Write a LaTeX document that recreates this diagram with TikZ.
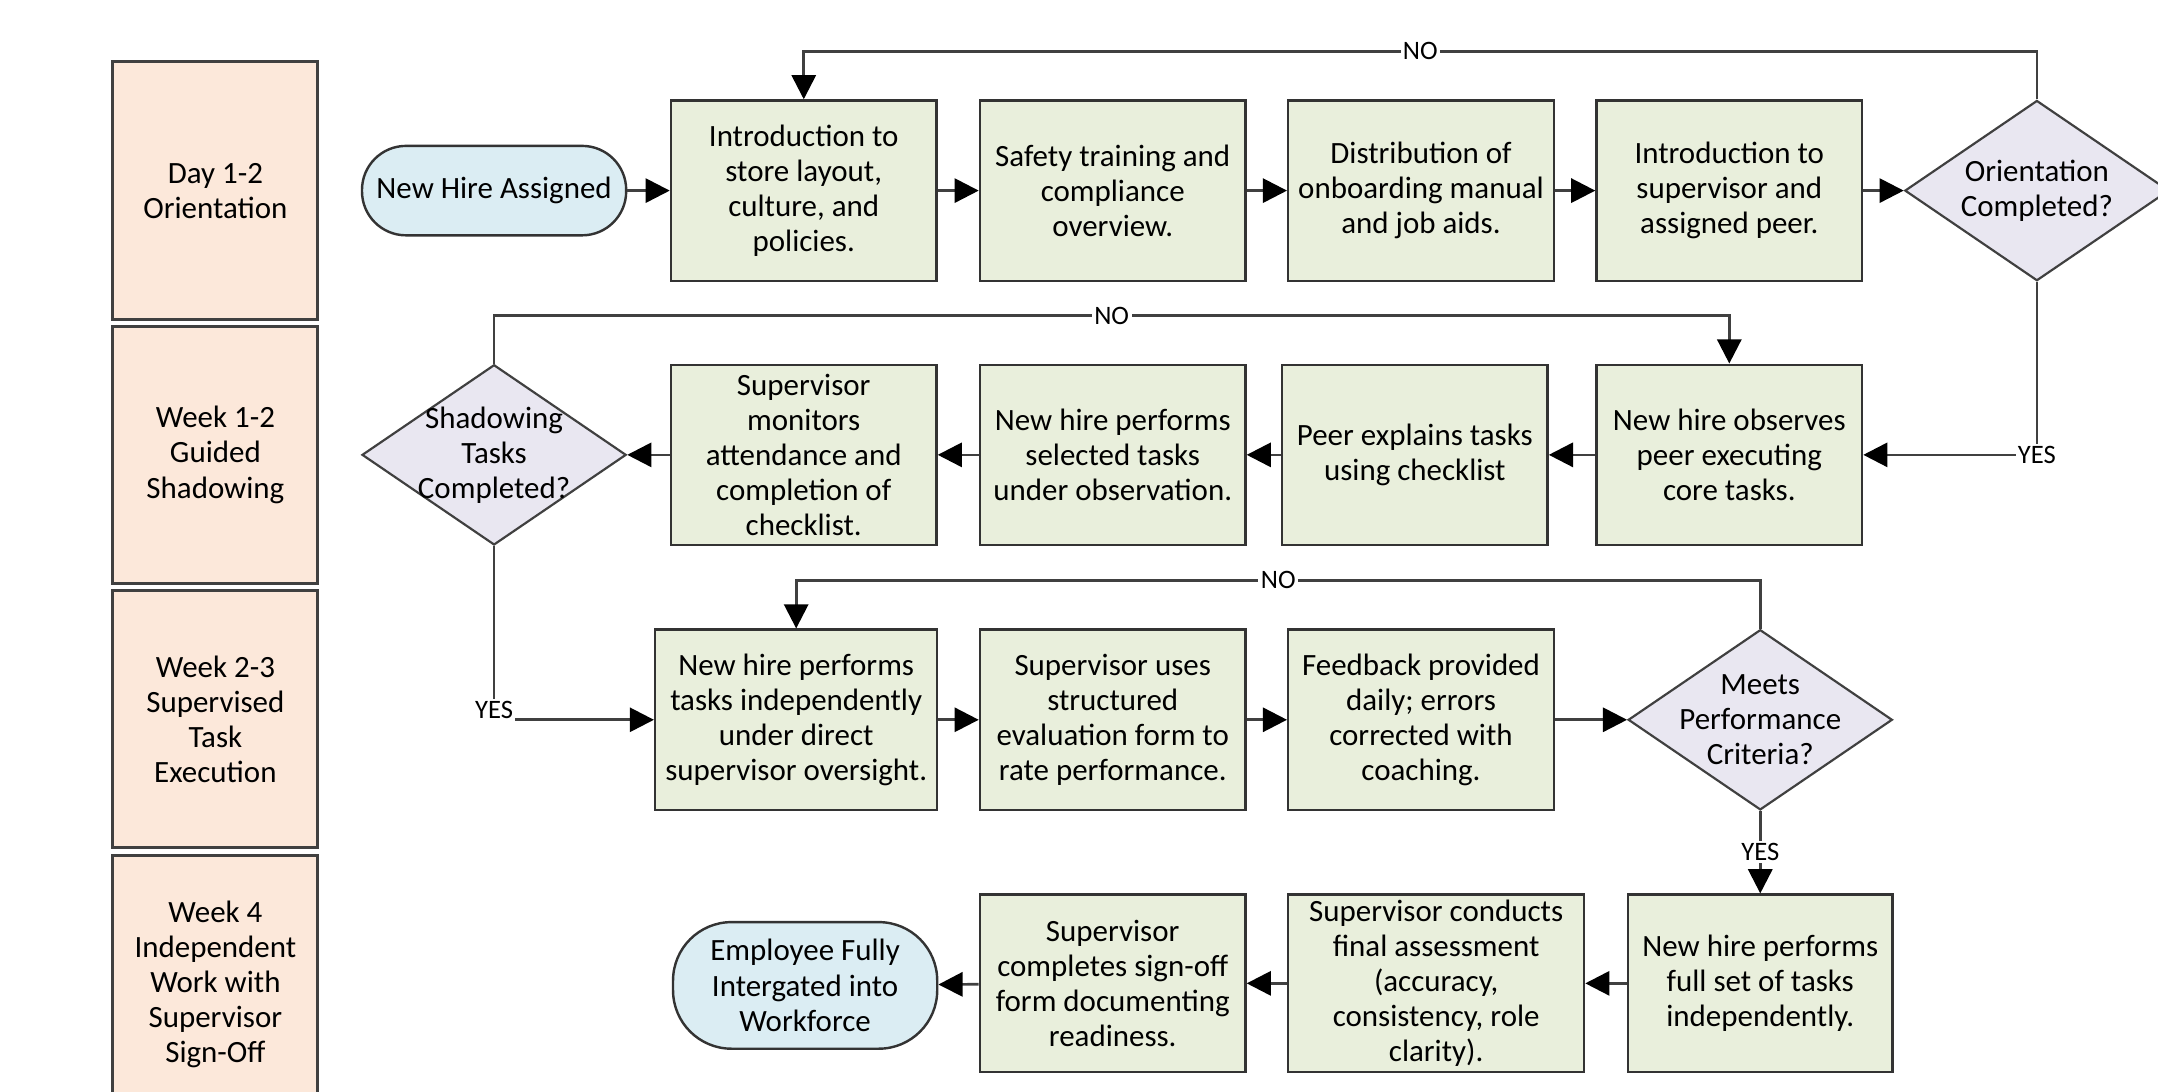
\documentclass[tikz,border=0pt]{standalone}
\usepackage{fontspec}
\setmainfont{Carlito}
\usetikzlibrary{shapes.geometric,arrows.meta}
\definecolor{lanecol}{RGB}{252,232,218}
\definecolor{boxcol}{RGB}{233,239,220}
\definecolor{termcol}{RGB}{219,237,243}
\definecolor{deccol}{RGB}{233,231,241}

\begin{document}
\begin{tikzpicture}[x=0.02cm,y=-0.02cm,font=\fontsize{12.8}{14.5}\selectfont] % схема адаптации
\tikzstyle{mylane} = [draw=black!75, fill=lanecol, line width=1.2pt, minimum width=2.98cm, minimum height=3.74cm, align=center] % swimlane style
\tikzstyle{mybox} = [draw=black!80, fill=boxcol, line width=1pt, minimum width=3.86cm, minimum height=2.62cm, inner sep=1pt, align=center] % шаг процесса
\tikzstyle{myterm} = [draw=black!80, fill=termcol, line width=1pt, minimum width=3.84cm, inner sep=1pt, align=center] % start / end
\tikzstyle{mydec} = [diamond, draw=black!75, fill=deccol, line width=0.9pt, minimum width=3.84cm, minimum height=2.62cm, inner sep=0pt] % decision node style
\tikzstyle{mytxt} = [align=center, inner sep=0pt]
\tikzstyle{myarrow} = [draw=black!75, line width=1.1pt, -{Triangle[length=10pt,width=10pt,fill=black,color=black]}]
\tikzstyle{mylbl} = [fill=white, inner sep=1pt, font=\fontsize{11}{12}\selectfont] % NO / YES

\useasboundingbox (0,0) rectangle (1568,793);

% дорожки
\node[mylane] (l1) at (156.5,138.5) {Day 1-2\\Orientation};
\node[mylane] (l2) at (156.5,330.5) {Week 1-2\\Guided\\Shadowing};
\node[mylane] (l3) at (156.5,522.5) {Week 2-3\\Supervised\\Task\\Execution};
\node[mylane] (l4) at (156.5,715) {Week 4\\Independent\\Work with\\Supervisor\\Sign-Off};

% row 1
\node[myterm, minimum height=1.3cm, rounded corners=0.64cm] (start) at (359,138.5) {New Hire Assigned};
\node[mybox] (a1) at (584,138.5) {Introduction to\\store layout,\\culture, and\\policies.};
\node[mybox] (a2) at (808.5,138.5) {Safety training and\\compliance\\overview.};
\node[mybox] (a3) at (1032.5,138.5) {Distribution of\\onboarding manual\\and job aids.};
\node[mybox] (a4) at (1256.5,138.5) {Introduction to\\supervisor and\\assigned peer.};
\node[mydec, label={[mytxt]center:{Orientation\\Completed?}}] (d1) at (1480,138.5) {};

% row 2
\node[mybox] (b1) at (1256.5,330.5) {New hire observes\\peer executing\\core tasks.};
\node[mybox] (b2) at (1028,330.5) {Peer explains tasks\\using checklist};
\node[mybox] (b3) at (808.5,330.5) {New hire performs\\selected tasks\\under observation.};
\node[mybox] (b4) at (584,330.5) {Supervisor\\monitors\\attendance and\\completion of\\checklist.};
\node[mydec, label={[mytxt]center:{Shadowing\\Tasks\\Completed?}}] (d2) at (359,330.5) {};

% row 3
\node[mybox, minimum width=4.1cm] (c1) at (578.5,523) {New hire performs\\tasks independently\\under direct\\supervisor oversight.};
\node[mybox] (c2) at (808.5,523) {Supervisor uses\\structured\\evaluation form to\\rate performance.};
\node[mybox] (c3) at (1032.5,523) {Feedback provided\\daily; errors\\corrected with\\coaching.};
\node[mydec, label={[mytxt]center:{Meets\\Performance\\Criteria?}}] (d3) at (1279,523) {};

% row 4
\node[mybox, minimum width=3.84cm, minimum height=2.58cm] (e1) at (1279,714.5) {New hire performs\\full set of tasks\\independently.};
\node[mybox, minimum width=4.3cm, minimum height=2.58cm] (e2) at (1043.5,714.5) {Supervisor conducts\\final assessment\\(accuracy,\\consistency, role\\clarity).};
\node[mybox, minimum height=2.58cm] (e3) at (808.5,714.5) {Supervisor\\completes sign-off\\form documenting\\readiness.};
\node[myterm, minimum height=1.84cm, rounded corners=0.85cm] (end) at (585,716) {Employee Fully\\Intergated into\\Workforce};

% стрелки
\draw[myarrow] (start) -- (a1);
\draw[myarrow] (a1) -- (a2);
\draw[myarrow] (a2) -- (a3);
\draw[myarrow] (a3) -- (a4);
\draw[myarrow] (a4) -- (d1.west);
\draw[myarrow] (d1.north) -- ++(0,-35) -| node[pos=0.25, mylbl] {NO} (a1.north);
\draw[myarrow] (d1.south) |- node[pos=0.5, mylbl] {YES} (b1.east);

\draw[myarrow] (b1) -- (b2);
\draw[myarrow] (b2) -- (b3);
\draw[myarrow] (b3) -- (b4);
\draw[myarrow] (b4) -- (d2.east);
\draw[myarrow] (d2.north) -- ++(0,-35) -| node[pos=0.25, mylbl] {NO} (b1.north);
\draw[myarrow] (d2.south) |- node[pos=0.5, mylbl, yshift=4pt] {YES} (c1.west);

\draw[myarrow] (c1) -- (c2);
\draw[myarrow] (c2) -- (c3);
\draw[myarrow] (c3) -- (d3.west);
\draw[myarrow] (d3.north) -- ++(0,-35) -| node[pos=0.25, mylbl] {NO} (c1.north);
\draw[myarrow] (d3.south) -- node[mylbl] {YES} (e1.north);

\draw[myarrow] (e1) -- (e2);
\draw[myarrow] (e2) -- (e3);
\draw[myarrow] (e3) -- (end);
\end{tikzpicture}
\end{document}
